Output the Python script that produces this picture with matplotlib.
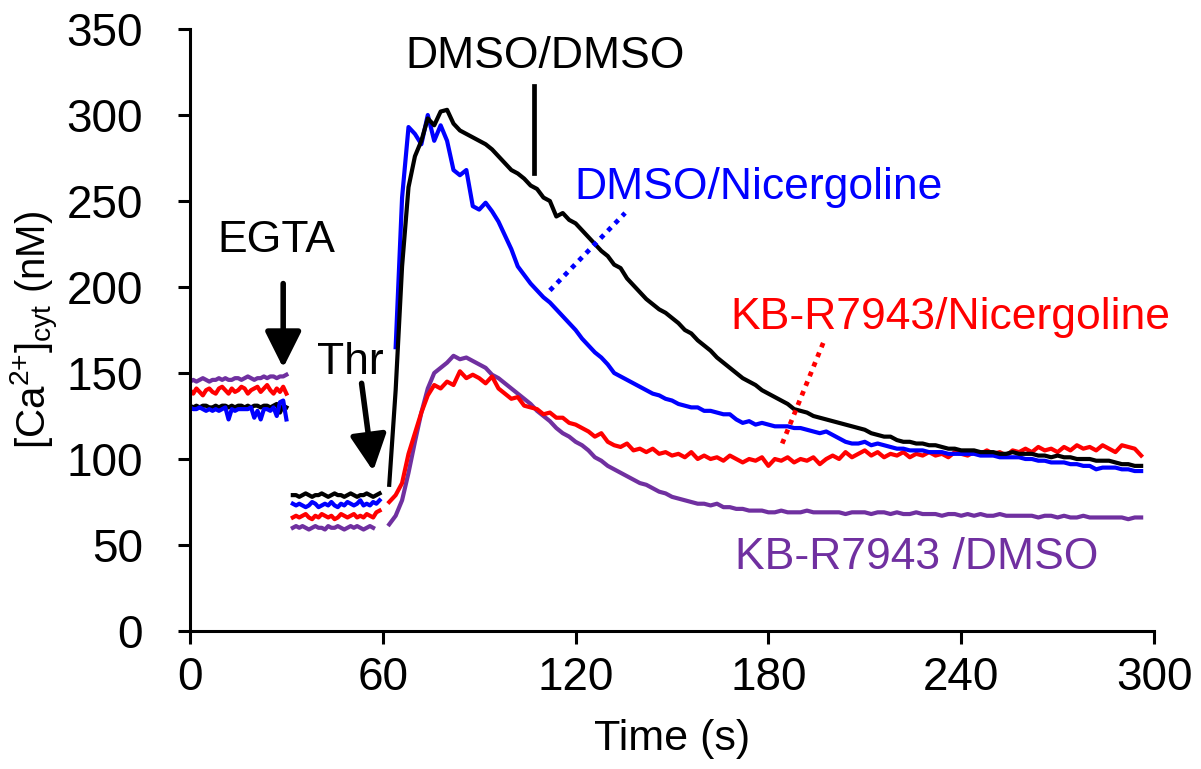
import matplotlib
matplotlib.use("Agg")
import matplotlib.pyplot as plt
import numpy as np

plt.rcParams['font.family'] = ['Liberation Sans', 'DejaVu Sans']
plt.rcParams['mathtext.default'] = 'regular'

# ---------------- data ----------------
# segment 1 (before EGTA)
t1 = list(range(0, 31))
black1 = [131,130,131,130,131,131,130,130,131,130,131,131,130,131,130,131,131,130,131,130,131,131,130,131,131,130,131,132,127,131,130]
blue1 = [130,129,129,130,129,128,129,128,129,128,129,130,123,129,128,129,129,129,129,130,124,128,123,129,129,128,130,125,133,134,123]
red1 = [140,138,141,139,137,140,141,139,138,141,142,140,138,141,139,140,142,141,138,140,141,142,139,141,143,140,138,141,139,142,138]
purple1 = [145,146,145,146,147,146,145,146,146,147,146,147,146,146,147,147,146,147,148,147,146,147,147,148,147,148,148,147,148,148,149]

# segment 2 (EGTA, before Thr)
t2 = list(range(32, 60))
black2 = [79,79,78,79,80,79,78,79,79,80,79,78,79,80,79,79,78,79,80,79,78,79,79,80,79,78,79,80]
blue2 = [74,73,74,73,72,73,75,74,72,73,74,73,75,73,72,74,73,75,74,73,74,76,73,74,73,75,74,76]
red2 = [66,67,66,67,68,66,65,67,66,68,67,66,67,65,66,68,67,66,67,68,66,67,66,68,67,66,69,70]
t2p = list(range(32, 58))
purple2 = [60,61,60,61,60,59,60,61,60,60,59,61,60,60,61,60,59,60,61,60,61,60,59,60,61,60]

# segment 3 (after Thr)
t3 = list(range(62, 297, 2))
black3 = [85,140,212,258,276,285,298,294,302,303,
          295,291,289,287,285,283,280,276,272,268,
          266,263,259,257,252,250,241,243,239,237,
          233,229,225,221,218,213,211,205,201,197,
          193,190,187,185,182,179,175,173,169,166,
          163,159,156,153,150,147,145,143,140,138,
          136,134,132,129,128,127,125,124,123,122,
          121,120,119,118,117,115,114,113,113,111,
          110,110,109,109,108,108,107,106,106,105,
          105,105,104,104,104,103,103,104,103,103,
          103,102,102,101,102,101,101,100,100,100,
          99,99,99,98,97,97,96,96]
blue3 = [np.nan,165,252,293,289,283,300,285,294,285,
         268,265,268,247,245,249,244,238,230,222,
         212,207,202,198,194,191,187,183,179,175,
         170,166,162,159,155,150,148,146,144,142,
         140,138,137,135,134,132,131,130,130,128,
         128,127,126,126,123,121,122,120,121,120,
         119,119,119,118,118,117,116,115,116,114,
         112,110,109,109,110,108,109,108,107,106,
         106,105,105,105,104,104,104,103,103,103,
         103,103,102,102,102,101,101,101,101,100,
         100,99,99,98,98,98,97,97,96,96,
         94,95,95,95,94,94,93,93]
red3 = [75,79,86,103,115,127,137,143,141,145,
        143,151,147,149,147,144,148,141,138,135,
        136,131,130,129,126,127,124,124,121,120,
        118,116,113,115,110,108,107,109,105,106,
        104,106,103,104,102,103,101,104,100,102,
        100,101,99,102,100,98,100,99,101,96,
        100,99,101,98,100,99,101,97,100,102,
        100,104,101,103,105,102,104,101,103,102,
        104,101,103,102,104,102,103,101,104,103,
        102,104,103,105,103,104,102,105,104,106,
        104,107,105,106,104,107,105,108,106,107,
        105,108,106,104,108,107,106,102]
purple3 = [62,67,76,92,110,127,141,150,153,156,
           160,158,159,157,155,153,149,147,144,141,
           138,135,132,128,125,122,118,115,113,110,
           108,105,101,99,96,94,92,90,88,86,
           85,83,81,80,78,77,76,75,74,74,
           73,74,72,72,71,71,70,70,70,69,
           69,70,69,69,69,70,69,69,69,69,
           69,68,69,69,69,68,69,69,68,69,
           68,68,69,68,68,68,67,68,68,67,
           68,67,68,67,67,68,67,67,67,67,
           67,66,67,67,66,67,66,66,67,66,
           66,66,66,66,66,65,66,66]

xticks = [0, 60, 120, 180, 240, 300]
yticks = [0, 50, 100, 150, 200, 250, 300, 350]

C_BLACK = '#000000'
C_BLUE = '#0000FF'
C_RED = '#FF0000'
C_PURPLE = '#7030A0'

# ---------------- figure ----------------
fig = plt.figure(figsize=(12.01, 7.69), dpi=100)
ax = fig.add_axes([190/1201, 1-631/769, 964/1201, 602/769])

lw = 3.0
ax.plot(t1, purple1, color=C_PURPLE, lw=lw)
ax.plot(t1, red1, color=C_RED, lw=lw)
ax.plot(t1, black1, color=C_BLACK, lw=lw)
ax.plot(t1, blue1, color=C_BLUE, lw=lw)

ax.plot(t2, black2, color=C_BLACK, lw=lw)
ax.plot(t2, blue2, color=C_BLUE, lw=lw)
ax.plot(t2, red2, color=C_RED, lw=lw)
ax.plot(t2p, purple2, color=C_PURPLE, lw=lw)

ax.plot(t3, purple3, color=C_PURPLE, lw=lw)
ax.plot(t3, red3, color=C_RED, lw=lw)
ax.plot(t3, blue3, color=C_BLUE, lw=lw)
ax.plot(t3, black3, color=C_BLACK, lw=lw)

ax.set_xlim(0, 300)
ax.set_ylim(0, 350)
ax.set_xticks(xticks)
ax.set_yticks(yticks)
ax.tick_params(axis='both', labelsize=33, width=2.2, length=9, direction='out')
ax.tick_params(axis='y', pad=25)
ax.tick_params(axis='x', pad=9)
for s in ['top', 'right']:
    ax.spines[s].set_visible(False)
for s in ['left', 'bottom']:
    ax.spines[s].set_linewidth(2.2)

ax.set_xlabel('Time (s)', fontsize=31, labelpad=14)
ax.set_ylabel('[Ca$^{2{+}}$]$_{cyt}$ (nM)', fontsize=29, labelpad=4)

fs = 32
ax.text(110.5, 334, 'DMSO/DMSO', color=C_BLACK, fontsize=fs, ha='center', va='center')
ax.plot([106.9, 106.9], [266, 317], color=C_BLACK, lw=3.4)
ax.text(177, 258, 'DMSO/Nicergoline', color=C_BLUE, fontsize=fs, ha='center', va='center')
ax.plot([112, 135.4], [198, 243], color=C_BLUE, lw=3.4, ls=(0, (1, 1.2)))
ax.text(236.5, 182, 'KB-R7943/Nicergoline', color=C_RED, fontsize=fs, ha='center', va='center')
ax.plot([184.3, 197.6], [109, 170], color=C_RED, lw=3.4, ls=(0, (1, 1.2)))
ax.text(226.3, 43, 'KB-R7943 /DMSO', color=C_PURPLE, fontsize=fs, ha='center', va='center')

ax.text(27, 227, 'EGTA', color='black', fontsize=fs, ha='center', va='center')
ax.annotate('', xy=(29, 153), xytext=(29, 202),
            arrowprops=dict(arrowstyle='-|>,head_length=1.0,head_width=0.5',
                            lw=4.0, color='black', mutation_scale=22, shrinkA=0, shrinkB=0))
ax.text(50, 156, 'Thr', color='black', fontsize=fs, ha='center', va='center')
ax.annotate('', xy=(57, 93), xytext=(53.4, 144),
            arrowprops=dict(arrowstyle='-|>,head_length=1.0,head_width=0.5',
                            lw=4.0, color='black', mutation_scale=22, shrinkA=0, shrinkB=0))

fig.savefig('out.png', dpi=100)
